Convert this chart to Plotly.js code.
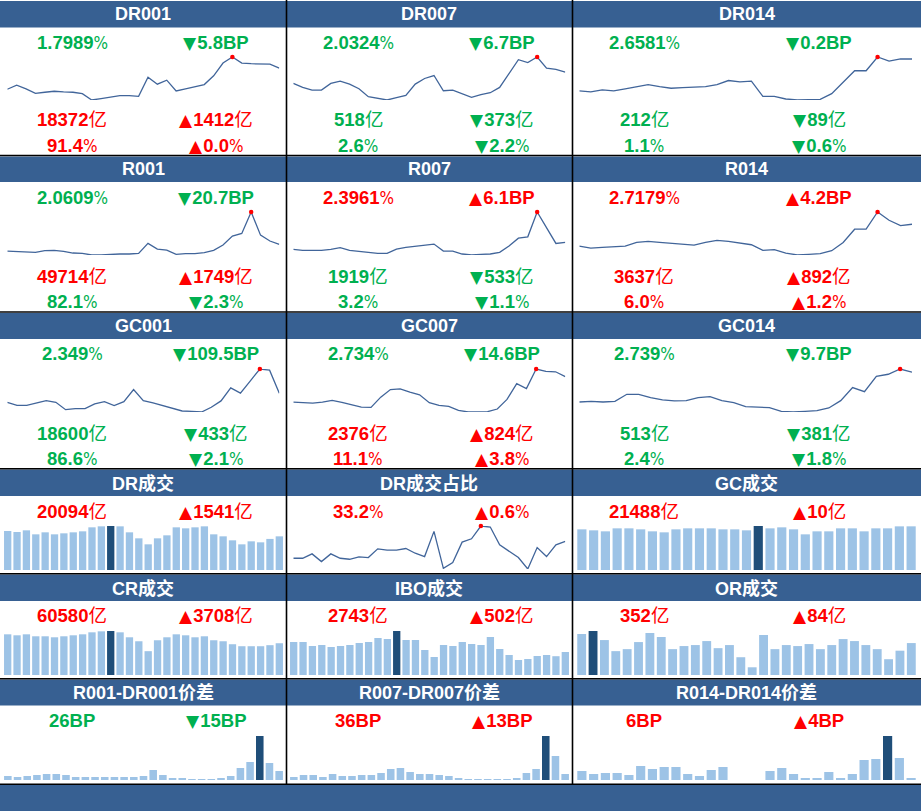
<!DOCTYPE html>
<html><head><meta charset="utf-8">
<script src="https://cdn.plot.ly/plotly-3.0.1.min.js"></script>
<style>html,body{margin:0;padding:0;background:#fff;}#chart{width:921px;height:811px;}</style>
</head><body><div id="chart"></div>
<script>
// ---------- DATA ----------
const rateTitles = ['DR001','DR007','DR014','R001','R007','R014','GC001','GC007','GC014'];
const dr001Rate = [1.484,1.544,1.489,1.424,1.439,1.454,1.444,1.439,1.419,1.324,1.344,1.369,1.389,1.389,1.379,1.664,1.559,1.619,1.459,1.489,1.524,1.554,1.684,1.874,1.964,1.874,1.864,1.864,1.857,1.7989];
const dr007Rate = [1.760,1.664,1.600,1.600,1.760,1.816,1.744,1.632,1.440,1.400,1.360,1.416,1.472,1.744,1.880,1.952,1.584,1.600,1.504,1.424,1.488,1.536,1.664,2.000,2.336,2.264,2.400,2.128,2.099,2.0324];
const dr014Rate = [2.183,2.168,2.198,2.183,2.213,2.243,2.278,2.248,2.223,2.233,2.238,2.248,2.278,2.338,2.318,2.328,2.103,2.103,2.063,2.048,2.053,2.058,2.143,2.308,2.483,2.483,2.688,2.628,2.660,2.6581];
const r001Rate = [1.661,1.641,1.621,1.581,1.681,1.701,1.641,1.541,1.521,1.421,1.421,1.461,1.481,1.481,1.521,2.121,1.781,1.721,1.461,1.501,1.501,1.561,1.701,2.021,2.561,2.721,4.021,2.621,2.268,2.0609];
const r007Rate = [1.976,1.916,1.916,1.916,1.976,2.076,1.916,1.856,1.796,1.736,1.736,1.996,2.096,2.176,2.236,2.296,1.876,1.876,1.696,1.636,1.676,1.696,1.796,2.176,2.656,2.736,4.236,3.296,2.335,2.3961];
const r014Rate = [2.058,1.998,2.018,2.038,2.058,2.168,2.198,2.168,2.148,2.118,2.088,2.168,2.228,2.198,2.138,2.098,1.928,1.948,1.848,1.788,1.808,1.828,1.918,2.168,2.568,2.568,3.088,2.838,2.676,2.7179];
const gc001Rate = [1.917,1.773,1.773,1.885,1.997,1.917,1.565,1.613,1.613,1.837,1.949,1.757,1.949,2.525,1.997,1.885,1.757,1.613,1.501,1.485,1.453,1.677,1.981,2.605,2.349,2.925,3.501,3.444,2.349];
const gc007Rate = [1.964,1.954,1.934,1.964,2.014,1.954,1.874,1.814,1.804,2.114,2.344,2.364,2.264,2.184,1.944,1.864,1.834,1.714,1.664,1.664,1.674,1.754,2.044,2.524,2.374,2.964,2.894,2.880,2.734];
const gc014Rate = [1.849,1.869,1.849,1.869,2.079,2.079,1.979,1.909,1.879,1.889,1.979,2.009,1.889,1.829,1.709,1.699,1.679,1.569,1.549,1.569,1.589,1.669,1.889,2.279,2.159,2.619,2.679,2.836,2.739];

const rateNow      = [1.7989, 2.0324, 2.6581, 2.0609, 2.3961, 2.7179, 2.349, 2.734, 2.739];
const rateChangeBP = [-5.8, -6.7, -0.2, -20.7, 6.1, 4.2, -109.5, -14.6, -9.7];
const volNowYi     = [18372, 518, 212, 49714, 1919, 3637, 18600, 2376, 513];
const volChangeYi  = [1412, -373, -89, 1749, -533, 892, -433, 824, -381];
const sharePct     = [91.4, 2.6, 1.1, 82.1, 3.2, 6.0, 86.6, 11.1, 2.4];
const shareChange  = [0.0, -2.2, -0.6, -2.3, -1.1, 1.2, -2.1, 3.8, -1.8];

const drVolume  = [23283,22686,23681,21293,22487,21293,21890,22487,23084,25472,26069,26268,26069,22487,18905,15323,18905,20696,25472,24875,25472,26069,21293,20099,17711,15323,17114,16517,18553,20094];
const drShare   = [30.20,30.20,30.98,29.60,30.98,30.20,30.02,30.44,30.32,31.88,31.64,31.64,31.94,31.10,30.50,35.00,28.40,29.42,33.08,33.68,35.96,35.78,32.60,31.40,30.32,28.28,32.12,30.50,32.60,33.20];
const gcVolume  = [20008,19516,19024,20500,20500,20008,19024,18532,20008,20500,20500,20500,20008,20008,19516,21650,20500,20992,20008,17548,19024,19024,20500,20500,19024,20500,20500,21478,21488];
const crVolume  = [77613,75720,77613,73827,73827,71934,73827,75720,77613,81399,83292,83923,81399,71934,64362,45432,66255,71934,77613,75720,71934,73827,66255,64362,58683,54897,54897,54897,56872,60580];
const iboVolume = [3935,3935,3458,3578,3339,3458,3578,3816,3935,4412,4293,5247,4174,4174,2981,2147,3578,3458,3935,3697,3578,4532,3101,2385,1789,1908,2266,2385,2241,2743];
const orVolume  = [452,485,385,263,285,363,463,419,285,319,330,374,296,330,196,85,441,285,330,319,341,285,330,396,374,330,285,174,268,352];

const volTitles   = ['DR成交','DR成交占比','GC成交','CR成交','IBO成交','OR成交'];
const volNow      = [20094, 33.2, 21488, 60580, 2743, 352];
const volChange   = [1541, 0.6, 10, 3708, 502, 84];

const spreadTitles = ['R001-DR001价差','R007-DR007价差','R014-DR014价差'];
const spread001BP = [12,9,12,15,18,18,15,9,9,9,9,9,9,9,12,30,15,6,6,3,3,3,6,12,36,54,132,51,27];
const spread007BP = [9,15,15,9,18,12,12,15,15,21,33,36,24,18,18,15,12,6,3,3,3,3,3,6,21,33,132,72,18];
const spread014BP = [27,18,21,21,15,42,33,39,39,18,12,30,39,-5,-8,-4,27,36,18,6,6,24,6,18,60,63,132,66,6];
const spreadNowBP    = [26, 36, 6];
const spreadChangeBP = [-15, 13, 4];

// ---------- STYLE / LAYOUT HELPERS ----------
const W = 921, H = 811;
const HEAD = '#376092', LIGHT = '#9DC3E6', DARK = '#1F4E79', LINE = '#41659A';
const GREEN = '#00B050', RED = '#FF0000';
const FONT = 'Liberation Sans, Arial, Noto Sans CJK SC, sans-serif';
const VSIZE = 18.5;
const titleX = [143, 429, 746.5];
const textX = [[72, 216], [358, 502], [644, 819]];
const lineXDom = [[7.3, 279.3], [293.3, 565.3], [579.3, 912]];
const barXDom = [[3, 284], [289, 570], [576, 917]];

const layout = {
  width: W, height: H, margin: {l: 0, r: 0, t: 0, b: 0},
  paper_bgcolor: '#fff', plot_bgcolor: 'rgba(0,0,0,0)',
  showlegend: false, bargap: 0.22, shapes: [], annotations: []
};
const traces = [];
let axN = 0;
function addAxes(xd, yd, xr, yr) {
  axN++;
  const s = axN === 1 ? '' : String(axN);
  layout['xaxis' + s] = {domain: [xd[0] / W, xd[1] / W], range: xr, visible: false, fixedrange: true, anchor: 'y' + s};
  layout['yaxis' + s] = {domain: [1 - yd[1] / H, 1 - yd[0] / H], range: yr, visible: false, fixedrange: true, anchor: 'x' + s};
  return ['x' + s, 'y' + s];
}
function addLine(vals, xd, yd) {
  const mn = Math.min(...vals), mx = Math.max(...vals);
  const [xa, ya] = addAxes(xd, yd, [0, vals.length - 1], [mn, mx]);
  const idx = vals.map((_, i) => i);
  traces.push({type: 'scatter', mode: 'lines', x: idx, y: vals, xaxis: xa, yaxis: ya,
    line: {color: LINE, width: 1.3}, hoverinfo: 'skip', cliponaxis: false});
  const im = vals.indexOf(mx);
  traces.push({type: 'scatter', mode: 'markers', x: [idx[im]], y: [vals[im]], xaxis: xa, yaxis: ya,
    marker: {color: RED, size: 4.5}, hoverinfo: 'skip', cliponaxis: false});
}
function addBars(vals, xd, yd) {
  const mx = Math.max(...vals);
  const [xa, ya] = addAxes(xd, yd, [-0.5, vals.length - 0.5], [0, mx]);
  traces.push({type: 'bar', x: vals.map((_, i) => i), y: vals, xaxis: xa, yaxis: ya,
    marker: {color: vals.map(v => v === mx ? DARK : LIGHT), line: {width: 0}}, hoverinfo: 'skip'});
}
function ann(x, y, text, color, size) {
  layout.annotations.push({xref: 'paper', yref: 'paper', x: x / W, y: 1 - y / H, text: text,
    showarrow: false, xanchor: 'center', yanchor: 'middle',
    font: {family: FONT, size: size || VSIZE, color: color}});
}
function arrow(v) {
  return '<span style="font-family:DejaVu Sans;font-size:17px">' + (v >= 0 ? '▲' : '▼') + '</span>' +
         '<span style="font-size:4px"> </span>';
}
function col(v) { return v >= 0 ? RED : GREEN; }
function yi(n) { return '<b>' + n + '</b>亿'; }
function pct(s) { return '<b>' + s + '</b><span style="font-family:Liberation Sans Narrow, DejaVu Sans Condensed, Liberation Sans;font-size:17px">%</span>'; }
function rect(x0, y0, x1, y1, fill) {
  layout.shapes.push({type: 'rect', xref: 'paper', yref: 'paper', x0: x0 / W, x1: x1 / W,
    y0: 1 - y1 / H, y1: 1 - y0 / H, fillcolor: fill, line: {width: 0}, layer: 'below'});
}
function hline(y, x0, x1) {
  layout.shapes.push({type: 'line', xref: 'paper', yref: 'paper', x0: x0 / W, x1: x1 / W,
    y0: 1 - y / H, y1: 1 - y / H, line: {color: '#000', width: 1.6}});
}
function vline(x, y0, y1) {
  layout.shapes.push({type: 'line', xref: 'paper', yref: 'paper', x0: x / W, x1: x / W,
    y0: 1 - y0 / H, y1: 1 - y1 / H, line: {color: '#000', width: 1.6}});
}

// ---------- HEADERS & GRID ----------
const headerBands = [[1, 27.5], [156.5, 182], [313, 339], [469.5, 496], [574.5, 601], [679.5, 705.5], [785, 811]];
headerBands.forEach(b => rect(0, b[0], W, b[1], HEAD));
[155.5, 312, 468.7, 573.7, 678.7, 784.3].forEach(y => hline(y, 0, W));
[286.5, 572.5].forEach(x => vline(x, 0, 784.3));

// ---------- RATE PANELS (rows 1-3) ----------
const rateSeries = [dr001Rate, dr007Rate, dr014Rate, r001Rate, r007Rate, r014Rate, gc001Rate, gc007Rate, gc014Rate];
const lineYDom = [[57, 100], [212, 255], [369, 412]];
const titleY = [14, 169, 326];
const t1 = [42, 197.5, 354], t2 = [119.5, 276, 433], t3 = [145, 301, 458];
rateSeries.forEach((vals, k) => {
  const r = Math.floor(k / 3), c = k % 3;
  addLine(vals, lineXDom[c], lineYDom[r]);
  ann(titleX[c], titleY[r], '<b>' + rateTitles[k] + '</b>', '#fff', 18);
  const cr = col(rateChangeBP[k]);
  ann(textX[c][0], t1[r], pct(String(rateNow[k])), cr);
  ann(textX[c][1], t1[r], arrow(rateChangeBP[k]) + '<b>' + Math.abs(rateChangeBP[k]).toFixed(1) + 'BP</b>', cr);
  const cv = col(volChangeYi[k]);
  ann(textX[c][0], t2[r], yi(volNowYi[k]), cv);
  ann(textX[c][1], t2[r], arrow(volChangeYi[k]) + yi(Math.abs(volChangeYi[k])), cv);
  const cs = col(shareChange[k]);
  ann(textX[c][0], t3[r], pct(sharePct[k].toFixed(1)), cs);
  ann(textX[c][1], t3[r], arrow(shareChange[k]) + pct(Math.abs(shareChange[k]).toFixed(1)), cs);
});

// ---------- VOLUME PANELS (rows 4-5) ----------
addBars(drVolume, barXDom[0], [526, 570]);
addLine(drShare, lineXDom[1], [526, 569]);
addBars(gcVolume, barXDom[2], [526, 570]);
addBars(crVolume, barXDom[0], [631, 675]);
addBars(iboVolume, barXDom[1], [631, 675]);
addBars(orVolume, barXDom[2], [631, 675]);
volTitles.forEach((t, k) => {
  const c = k % 3;
  const row = k < 3 ? 0 : 1;
  const ty = row === 0 ? 483 : 588;
  const vy = row === 0 ? 511 : 615;
  ann(titleX[c], ty, '<b>' + t + '</b>', '#fff', 18);
  const cc = col(volChange[k]);
  if (t === 'DR成交占比') {
    ann(textX[c][0], vy, pct(volNow[k].toFixed(1)), cc);
    ann(textX[c][1], vy, arrow(volChange[k]) + pct(Math.abs(volChange[k]).toFixed(1)), cc);
  } else {
    ann(textX[c][0], vy, yi(volNow[k]), cc);
    ann(textX[c][1], vy, arrow(volChange[k]) + yi(Math.abs(volChange[k])), cc);
  }
});

// ---------- SPREAD PANELS (row 6) ----------
[spread001BP, spread007BP, spread014BP].forEach((vals, c) => {
  addBars(vals, barXDom[c], [736, 780]);
  ann(titleX[c], 692.5, '<b>' + spreadTitles[c] + '</b>', '#fff', 18);
  const cc = col(spreadChangeBP[c]);
  ann(textX[c][0], 720, '<b>' + spreadNowBP[c] + 'BP</b>', cc);
  ann(textX[c][1], 720, arrow(spreadChangeBP[c]) + '<b>' + Math.abs(spreadChangeBP[c]) + 'BP</b>', cc);
});

Plotly.newPlot('chart', traces, layout, {staticPlot: true, displayModeBar: false});
</script>
</body></html>
